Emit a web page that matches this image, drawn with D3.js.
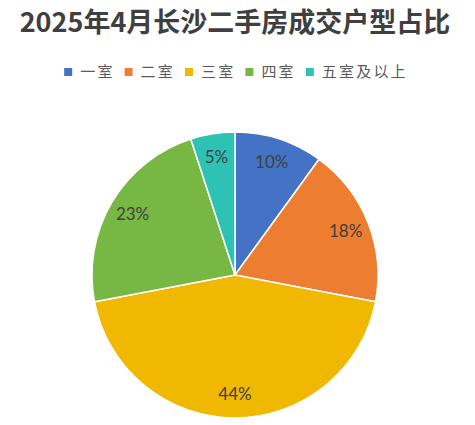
<!DOCTYPE html>
<html>
<head>
<meta charset="utf-8">
<script src="https://cdn.jsdelivr.net/npm/d3@7"></script>
<style>
  html, body { margin: 0; padding: 0; background: #fff; }
</style>
</head>
<body>
<div id="chart"></div>
<script>
// Data

const categories = ['一室', '二室', '三室', '四室', '五室及以上']
const shares = [10, 18, 44, 23, 5]
const colors = ['#4472C4', '#ED7D31', '#F0B800', '#76B843', '#2EC2B4']

const title = '2025年4月长沙二手房成交户型占比'

const width = 475
const height = 425
const cx = 235
const cy = 275
const radius = 143
const labelRadius = 119

const svg = d3.select('#chart')
  .append('svg')
  .attr('width', width)
  .attr('height', height)

// Title

svg.append('text')
  .attr('x', 235)
  .attr('y', 32)
  .attr('text-anchor', 'middle')
  .attr('font-family', '"Noto Sans CJK SC", sans-serif')
  .attr('font-weight', 'bold')
  .attr('font-size', 27)
  .attr('fill', '#3f3f3f')
  .text(title)

// Legend

const legend = svg.append('g')
let lx = 0
categories.forEach((name, i) => {
  const item = legend.append('g').attr('transform', `translate(${lx},0)`)
  item.append('rect')
    .attr('x', 0)
    .attr('y', -4)
    .attr('width', 8)
    .attr('height', 8)
    .attr('fill', colors[i])
  const t = item.append('text')
    .attr('x', 16)
    .attr('y', 0)
    .attr('dy', '0.35em')
    .attr('font-family', '"Noto Sans CJK SC", sans-serif')
    .attr('font-size', 15)
    .attr('letter-spacing', 2.2)
    .attr('fill', '#595959')
    .text(name)
  lx += 16 + t.node().getComputedTextLength() + 10
})
const legendWidth = lx - 10
legend.attr('transform', `translate(${236 - legendWidth / 2},72)`)

// Pie

const pie = d3.pie().sort(null).value(d => d)
const arc = d3.arc().innerRadius(0).outerRadius(radius)
const labelArc = d3.arc().innerRadius(labelRadius).outerRadius(labelRadius)

const g = svg.append('g').attr('transform', `translate(${cx},${cy})`)
const arcs = pie(shares)

g.selectAll('path')
  .data(arcs)
  .join('path')
  .attr('d', arc)
  .attr('fill', (d, i) => colors[i])
  .attr('stroke', '#fff')
  .attr('stroke-width', 1.5)
  .attr('stroke-linejoin', 'round')

g.selectAll('text')
  .data(arcs)
  .join('text')
  .attr('transform', d => `translate(${labelArc.centroid(d)})`)
  .attr('text-anchor', 'middle')
  .attr('dy', '0.35em')
  .attr('font-family', 'Lato, sans-serif')
  .attr('font-size', 17)
  .attr('fill', '#404040')
  .text(d => `${d.data}%`)
</script>
</body>
</html>
